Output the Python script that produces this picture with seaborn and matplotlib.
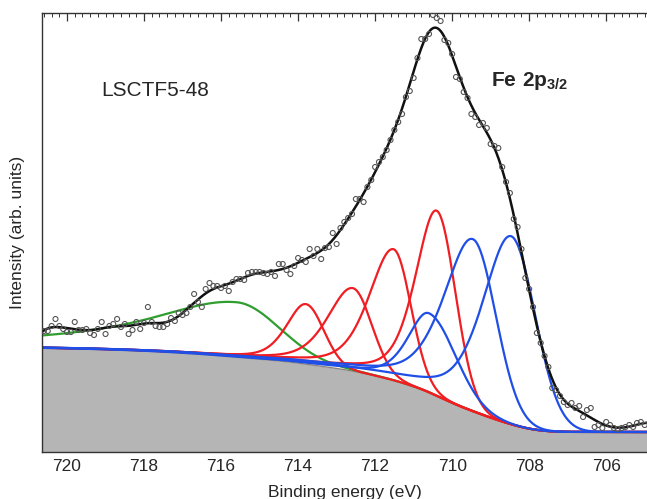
import numpy as np
import pandas as pd
import matplotlib
matplotlib.use("Agg")
import matplotlib.pyplot as plt
import seaborn as sns
from matplotlib.ticker import MultipleLocator

# Spectre mesuré : pas de 0.1 eV, de 720.6 eV à 705.0 eV (intensité en u.a.)
be_start = 720.6
be_step = 0.1
counts = [
    121, 121, 126, 133, 126, 123, 120, 120, 130, 122,
    122, 123, 119, 117, 123, 130, 118, 126, 128, 133,
    125, 128, 118, 122, 130, 123, 129, 145, 130, 126,
    125, 125, 128, 134, 131, 139, 137, 139, 145, 158,
    150, 145, 163, 169, 166, 166, 164, 166, 161, 170,
    173, 173, 172, 179, 180, 180, 180, 179, 178, 180,
    176, 188, 188, 182, 178, 186, 194, 192, 190, 203,
    196, 203, 193, 204, 205, 219, 208, 224, 230, 234,
    238, 253, 253, 250, 265, 272, 285, 290, 295, 302,
    312, 322, 330, 338, 355, 361, 374, 394, 413, 413,
    418, 437, 434, 431, 412, 409, 398, 375, 373, 360,
    354, 338, 335, 327, 329, 324, 308, 306, 304, 285,
    270, 259, 233, 225, 203, 174, 163, 145, 119, 109,
    96, 85, 64, 62, 56, 50, 47, 49, 44, 46,
    35, 42, 44, 25, 27, 24, 30, 27, 24, 23,
    24, 25, 27, 25, 29, 30, 27,
]
be = np.round(be_start - be_step * np.arange(len(counts)), 2)

# Composantes du fit (centre, hauteur, demi-largeurs côté haute/basse énergie, part lorentzienne)
comp_group = ["sat", "Fe3+", "Fe3+", "Fe3+", "Fe3+", "Fe2+", "Fe2+", "Fe2+"]
comp_center = [715.6, 713.8, 712.58, 711.52, 710.4, 710.6, 709.46, 708.47]
comp_height = [55, 60, 83, 131, 185, 79, 172, 188]
comp_w_high = [2.75, 0.6, 0.78, 0.76, 0.66, 0.65, 0.9, 0.88]
comp_w_low = [1.3, 0.55, 0.58, 0.53, 0.57, 0.82, 0.7, 0.74]
comp_eta = [1.0, 0.5, 0.5, 0.5, 0.5, 0.5, 0.5, 0.5]

# Fond de Shirley : niveaux aux deux bouts
bg_high = 104
bg_low = 20

# Lissage de l'enveloppe (régression locale quadratique, largeur en eV)
env_sigma = 0.4

palette = {"sat": "#2f9e2f", "Fe3+": "#f01e23", "Fe2+": "#1f4fe6"}


def peak(e, c, h, w_hi, w_lo, eta):
    d = e - c
    hi = (1 - eta) * np.exp(-np.log(2) * (d / w_hi) ** 2) + eta / (1 + (d / w_hi) ** 2)
    lo = np.exp(-np.log(2) * (d / w_lo) ** 2)
    return h * np.where(d >= 0, hi, lo)


def local_quad(e, x, y, sigma):
    y = np.asarray(y, dtype=float)
    out = np.empty(len(e))
    for j, e0 in enumerate(e):
        w = np.sqrt(np.exp(-0.5 * ((x - e0) / sigma) ** 2))
        X = np.vander(x - e0, 3, increasing=True)
        beta = np.linalg.lstsq(X * w[:, None], y * w, rcond=None)[0]
        out[j] = beta[0]
    return out


grid = np.linspace(704.9, 720.7, 1200)
peaks = [peak(grid, c, h, wh, wl, et) for c, h, wh, wl, et in
         zip(comp_center, comp_height, comp_w_high, comp_w_low, comp_eta)]
total = np.sum(peaks, axis=0)
frac = np.cumsum(total) / np.sum(total)
background = bg_low + (bg_high - bg_low) * frac
envelope = local_quad(grid, be, counts, env_sigma)

sns.set_style("ticks")
plt.rcParams["font.family"] = ["Liberation Sans", "DejaVu Sans"]
plt.rcParams["mathtext.fontset"] = "custom"
plt.rcParams["mathtext.rm"] = "Liberation Sans"
plt.rcParams["mathtext.bf"] = "Liberation Sans:bold"

fig = plt.figure(figsize=(6.47, 4.99), dpi=100)
ax = fig.add_axes([42 / 647, 1 - 452 / 499, 1 - 42 / 647, (452 - 13) / 499])

ax.fill_between(grid, 0, background, color="#b5b5b5", lw=0)
sns.lineplot(x=grid, y=background, color="#8c8480", lw=1.0, ax=ax)

for i in range(len(comp_center)):
    sns.lineplot(x=grid, y=background + peaks[i], color=palette[comp_group[i]], lw=1.6, ax=ax)

sns.lineplot(x=grid, y=envelope, color="#111111", lw=1.8, ax=ax)

df = pd.DataFrame({"be": be, "counts": counts})
sns.scatterplot(data=df, x="be", y="counts", ax=ax, s=13, facecolor="none",
                edgecolor="#555555", linewidth=0.8, marker="o", zorder=5)

ax.set_xlim(720.65, 704.94)
ax.set_ylim(0, 439)
ax.set_yticks([])
ax.xaxis.set_major_locator(MultipleLocator(2))
ax.xaxis.set_minor_locator(MultipleLocator(0.2))
ax.tick_params(axis="x", which="both", direction="in", top=True, bottom=True,
               labelsize=12.5, pad=5, color="#333333")
ax.tick_params(axis="x", which="major", length=6, width=0.9)
ax.tick_params(axis="x", which="minor", length=3, width=0.7)
for side in ["left", "top", "bottom"]:
    ax.spines[side].set_color("#333333")
    ax.spines[side].set_linewidth(1.0)
ax.spines["right"].set_visible(False)

ax.set_xlabel("Binding energy (eV)", fontsize=12.5, labelpad=8)
ax.set_ylabel("Intensity (arb. units)", fontsize=12.5, labelpad=12)

ax.text(719.12, 361, "LSCTF5-48", fontsize=15, va="center", ha="left")
ax.text(709.0, 371, r"$\mathbf{Fe\ 2p_{3/2}}$", fontsize=15, va="center", ha="left")

fig.savefig("out.png", dpi=100)
